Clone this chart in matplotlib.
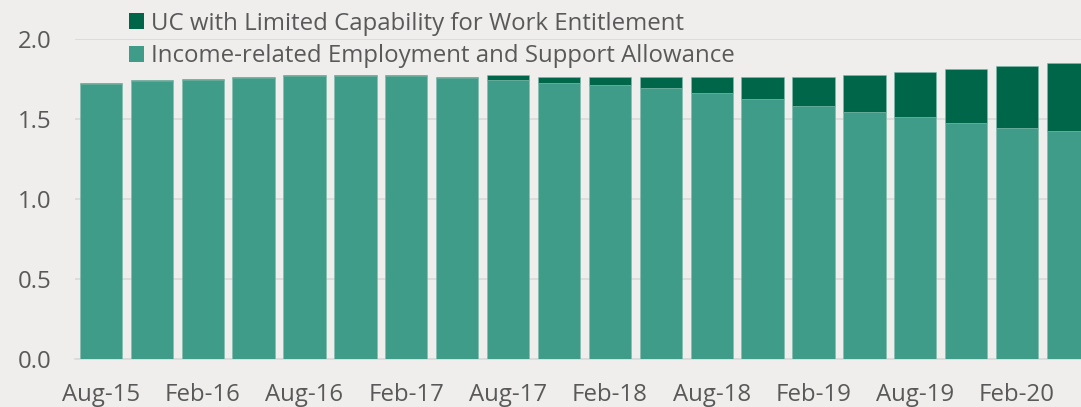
import numpy as np
import matplotlib.pyplot as plt
from matplotlib.patches import Patch

plt.rcParams['font.family'] = ['Open Sans', 'DejaVu Sans']

quarters = ["Aug-15", "Nov-15", "Feb-16", "May-16", "Aug-16", "Nov-16", "Feb-17",
            "May-17", "Aug-17", "Nov-17", "Feb-18", "May-18", "Aug-18", "Nov-18",
            "Feb-19", "May-19", "Aug-19", "Nov-19", "Feb-20", "May-20"]

# millions of claimants
esa = [1.718, 1.737, 1.748, 1.758, 1.769, 1.769, 1.769, 1.755, 1.745, 1.726,
       1.714, 1.695, 1.664, 1.627, 1.585, 1.545, 1.514, 1.476, 1.445, 1.426]
total = [1.725, 1.743, 1.753, 1.764, 1.775, 1.775, 1.775, 1.766, 1.776, 1.764,
         1.764, 1.764, 1.764, 1.764, 1.764, 1.775, 1.793, 1.812, 1.833, 1.854]
uc_lcw = [t - e for t, e in zip(total, esa)]

bg = "#EFEEEC"
light = "#3F9C88"
dark = "#00664A"
text_col = "#595959"

fig = plt.figure(figsize=(10.81, 4.07), dpi=100, facecolor=bg)
ax = fig.add_axes([0.0698, 48 / 407, 0.9417, 319.7 / 407], facecolor=bg)

x = np.arange(len(quarters))
ax.bar(x, esa, width=0.83, color=light, edgecolor="#7dbcae", linewidth=0.4, zorder=3)
ax.bar(x, uc_lcw, bottom=esa, width=0.83, color=dark, edgecolor="#7dbcae",
       linewidth=0.4, zorder=3)

ax.set_xlim(-0.5, len(quarters) - 0.5)
ax.set_ylim(0, 2.0)
ax.set_yticks(np.arange(0, 2.01, 0.5))
ax.set_yticklabels([f"{v:.1f}" for v in np.arange(0, 2.01, 0.5)])
ax.set_xticks(x[::2])
ax.set_xticklabels(quarters[::2])
ax.tick_params(axis="both", length=0, labelsize=17.3, colors=text_col)
ax.tick_params(axis="y", pad=17)
ax.tick_params(axis="x", pad=17)
ax.grid(axis="y", color="#D9D9D9", linewidth=1.2, zorder=0)
for s in ["top", "right", "left"]:
    ax.spines[s].set_visible(False)
ax.spines["bottom"].set_color("#D9D9D9")
ax.spines["bottom"].set_linewidth(1.2)

handles = [Patch(facecolor=dark), Patch(facecolor=light)]
labels = ["UC with Limited Capability for Work Entitlement",
          "Income-related Employment and Support Allowance"]
fig.legend(handles, labels, loc="upper left", bbox_to_anchor=(0.110, 0.995),
           frameon=False, fontsize=17.3, labelcolor=text_col,
           handlelength=0.65, handleheight=0.65, handletextpad=0.3,
           labelspacing=0.36, borderaxespad=0)

fig.savefig("out.png", dpi=100, facecolor=bg)
